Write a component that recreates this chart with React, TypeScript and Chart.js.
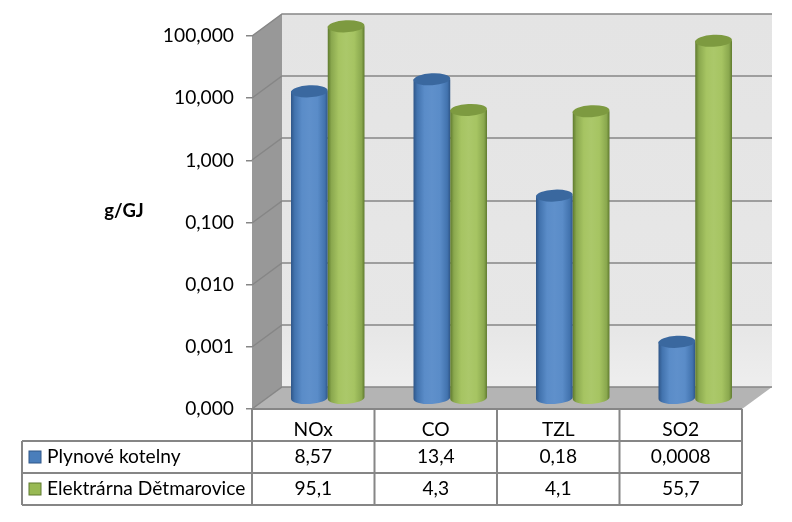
import React, { useEffect, useRef } from "react";
import { Chart, registerables } from "chart.js";

Chart.register(...registerables);

const categories = ["NOx", "CO", "TZL", "SO2"];
const plynoveValues = [8.57, 13.4, 0.18, 0.0008];
const elektrarnaValues = [95.1, 4.3, 4.1, 55.7];
const plynoveLabels = ["8,57", "13,4", "0,18", "0,0008"];
const elektrarnaLabels = ["95,1", "4,3", "4,1", "55,7"];
const seriesNames = ["Plynové kotelny", "Elektrárna Dětmarovice"];
const yTicks = [0.0001, 0.001, 0.01, 0.1, 1, 10, 100];
const yTitle = "g/GJ";

const FONT = "Lato, Carlito, sans-serif";
const DX = 30;
const DY = -22;
const BAR_DX = 14.5;
const BAR_DY = -11;
const RY = 6;
const TILT = -0.05;
const LINE = "#868686";

const palettes = [
  { edge: "#2f5688", shade: "#4273ae", mid: "#5a8cc8", hi: "#5f90cb", top: "#3a689f", key: "#4a7ebb" },
  { edge: "#5f7a2e", shade: "#8aa84e", mid: "#a6c462", hi: "#abc86a", top: "#7d9a40", key: "#98b954" },
];

const scene = {
  id: "scene",
  beforeDatasetsDraw(chart: any) {
    const { ctx, chartArea: a, scales } = chart;
    const { left: l, right: r, top: t, bottom: b } = a;
    ctx.save();
    const wall = ctx.createLinearGradient(0, t + DY, 0, b + DY);
    wall.addColorStop(0, "#e4e4e4");
    wall.addColorStop(0.85, "#e7e7e7");
    wall.addColorStop(1, "#eeeeee");
    ctx.fillStyle = wall;
    ctx.fillRect(l + DX, t + DY, r - l, b - t);
    ctx.fillStyle = "#989898";
    ctx.beginPath();
    ctx.moveTo(l, t);
    ctx.lineTo(l + DX, t + DY);
    ctx.lineTo(l + DX, b + DY);
    ctx.lineTo(l, b);
    ctx.closePath();
    ctx.fill();
    ctx.fillStyle = "#b4b4b4";
    ctx.beginPath();
    ctx.moveTo(l, b);
    ctx.lineTo(l + DX, b + DY);
    ctx.lineTo(r + DX, b + DY);
    ctx.lineTo(r, b);
    ctx.closePath();
    ctx.fill();
    ctx.strokeStyle = LINE;
    ctx.lineWidth = 1.5;
    yTicks.forEach((v) => {
      const y = Math.round(scales.y.getPixelForValue(v));
      ctx.beginPath();
      ctx.moveTo(l, y);
      ctx.lineTo(l + DX, y + DY);
      ctx.lineTo(r + DX, y + DY);
      ctx.stroke();
    });
    ctx.restore();
  },
  afterDatasetsDraw(chart: any) {
    const { ctx } = chart;
    const drawCyl = (el: any, pal: any) => {
      const { x, y, base, width } = el.getProps(["x", "y", "base", "width"], true);
      const cx = x + BAR_DX;
      const topY = y + BAR_DY;
      const botY = base + BAR_DY;
      const hw = width / 2;
      const g = ctx.createLinearGradient(cx - hw, 0, cx + hw, 0);
      g.addColorStop(0, pal.edge);
      g.addColorStop(0.1, pal.shade);
      g.addColorStop(0.3, pal.mid);
      g.addColorStop(0.5, pal.hi);
      g.addColorStop(0.72, pal.mid);
      g.addColorStop(0.92, pal.shade);
      g.addColorStop(1, pal.edge);
      ctx.fillStyle = g;
      ctx.beginPath();
      ctx.moveTo(cx - hw, topY);
      ctx.lineTo(cx - hw, botY);
      ctx.ellipse(cx, botY, hw, RY, TILT, Math.PI, 0, true);
      ctx.lineTo(cx + hw, topY);
      ctx.closePath();
      ctx.fill();
      ctx.fillStyle = pal.top;
      ctx.beginPath();
      ctx.ellipse(cx, topY, hw, RY, TILT, 0, Math.PI * 2);
      ctx.fill();
    };
    ctx.save();
    categories.forEach((_, i) => {
      chart.data.datasets.forEach((_d: any, di: number) => {
        drawCyl(chart.getDatasetMeta(di).data[i], palettes[di]);
      });
    });
    ctx.restore();
  },
  afterDraw(chart: any) {
    const { ctx, chartArea: a } = chart;
    const { left: l, right: r, bottom: b } = a;
    const tableLeft = 22;
    const rows = [b, 441, 473, 505];
    const colW = (r - l) / categories.length;
    ctx.save();
    ctx.strokeStyle = LINE;
    ctx.lineWidth = 2;
    ctx.beginPath();
    ctx.moveTo(l, rows[0]);
    ctx.lineTo(r, rows[0]);
    ctx.moveTo(tableLeft, rows[1]);
    ctx.lineTo(r, rows[1]);
    ctx.moveTo(tableLeft, rows[2]);
    ctx.lineTo(r, rows[2]);
    ctx.moveTo(tableLeft, rows[3]);
    ctx.lineTo(r, rows[3]);
    ctx.moveTo(tableLeft, rows[1]);
    ctx.lineTo(tableLeft, rows[3]);
    for (let i = 0; i <= categories.length; i++) {
      const x = l + colW * i;
      ctx.moveTo(x, rows[0]);
      ctx.lineTo(x, rows[3]);
    }
    ctx.stroke();
    ctx.font = `19.2px ${FONT}`;
    ctx.fillStyle = "#000";
    ctx.textBaseline = "middle";
    [plynoveLabels, elektrarnaLabels].forEach((vals, ri) => {
      const y = (rows[ri + 1] + rows[ri + 2]) / 2;
      ctx.fillStyle = palettes[ri].key;
      ctx.fillRect(29, y - 6, 12, 12);
      ctx.strokeStyle = palettes[ri].edge;
      ctx.lineWidth = 1;
      ctx.strokeRect(29, y - 6, 12, 12);
      ctx.fillStyle = "#000";
      ctx.textAlign = "left";
      ctx.fillText(seriesNames[ri], 47, y);
      ctx.textAlign = "center";
      vals.forEach((v, i) => ctx.fillText(v, l + colW * (i + 0.5), y));
    });
    ctx.font = `bold 18.5px ${FONT}`;
    ctx.textAlign = "center";
    ctx.fillText(yTitle, 124, 211);
    ctx.restore();
  },
};

export default function App() {
  const ref = useRef<HTMLCanvasElement>(null);
  useEffect(() => {
    const chart = new Chart(ref.current!, {
      type: "bar",
      data: {
        labels: categories,
        datasets: [
          { label: seriesNames[0], data: plynoveValues, backgroundColor: "transparent" },
          { label: seriesNames[1], data: elektrarnaValues, backgroundColor: "transparent" },
        ],
      },
      options: {
        animation: false,
        responsive: false,
        layout: { padding: { top: 36, right: 50, left: 0, bottom: 0 } },
        datasets: { bar: { categoryPercentage: 0.6, barPercentage: 1 } },
        plugins: { legend: { display: false }, tooltip: { enabled: false } },
        scales: {
          x: {
            grid: { display: false },
            border: { display: false },
            ticks: { font: { family: FONT, size: 19.2 }, color: "#000", padding: 1, maxRotation: 0 },
            afterFit(s: any) {
              s.height = 113;
            },
          },
          y: {
            type: "logarithmic",
            min: 0.0001,
            max: 100,
            afterBuildTicks(s: any) {
              s.ticks = yTicks.map((value) => ({ value, major: true }));
            },
            afterFit(s: any) {
              s.width = 252;
            },
            grid: { drawOnChartArea: false, color: LINE, lineWidth: 1.5, tickLength: 6 },
            border: { display: false },
            ticks: {
              font: { family: FONT, size: 19.2 },
              color: "#000",
              padding: 12,
              autoSkip: false,
              callback: (v: any) => Number(v).toFixed(3).replace(".", ","),
            },
          },
        },
      },
      plugins: [scene],
    } as any);
    return () => chart.destroy();
  }, []);
  return (
    <div style={{ position: "absolute", left: 0, top: 0, width: 792, height: 522, background: "#fff" }}>
      <canvas ref={ref} width={792} height={522} style={{ display: "block" }} />
    </div>
  );
}
